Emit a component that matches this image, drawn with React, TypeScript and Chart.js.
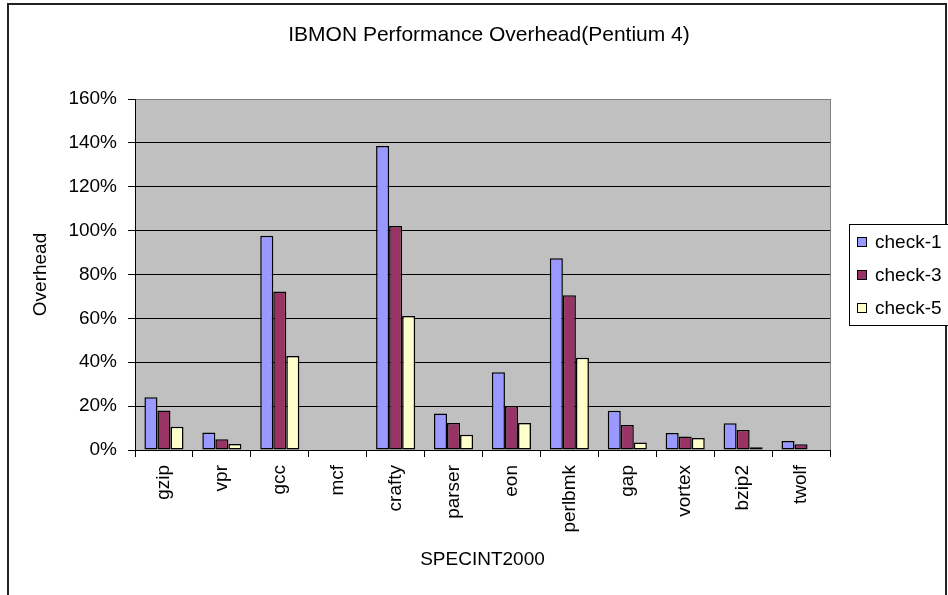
import React, { useEffect, useRef } from "react";
import { Chart, registerables } from "chart.js";

Chart.register(...registerables);

const categories = ["gzip", "vpr", "gcc", "mcf", "crafty", "parser", "eon", "perlbmk", "gap", "vortex", "bzip2", "twolf"];
const check1 = [24, 8, 97.7, null, 138.6, 16.6, 35.4, 87.4, 17.9, 7.7, 12.2, 4.1];
const check3 = [18, 4.9, 72.2, null, 102.1, 12.3, 20.1, 70.5, 11.4, 6.2, 9.1, 2.6];
const check5 = [10.6, 2.7, 42.8, null, 61.1, 7.0, 12.3, 42.1, 3.4, 5.5, 1.2, 0];
const seriesNames = ["check-1", "check-3", "check-5"];
const seriesColors = ["#9999FF", "#993366", "#FFFFCC"];
const yMin = 0;
const yMax = 160;
const yStep = 20;
const titleText = "IBMON Performance Overhead(Pentium 4)";
const xTitle = "SPECINT2000";
const yTitle = "Overhead";

const FONT = "'Liberation Sans', Arial, sans-serif";

const framePlugin = {
  id: "framePlugin",
  beforeDraw(chart: any) {
    const { ctx, chartArea } = chart;
    ctx.save();
    ctx.fillStyle = "#ffffff";
    ctx.fillRect(0, 0, chart.width, chart.height);
    ctx.fillStyle = "#C0C0C0";
    ctx.fillRect(chartArea.left, chartArea.top, chartArea.right - chartArea.left, chartArea.bottom - chartArea.top);
    // outer frame
    ctx.strokeStyle = "#222";
    ctx.lineWidth = 2;
    ctx.beginPath();
    ctx.moveTo(8, 600);
    ctx.lineTo(8, 4);
    ctx.lineTo(946, 4);
    ctx.lineTo(946, 600);
    ctx.stroke();
    // title
    ctx.fillStyle = "#000";
    ctx.font = `21px ${FONT}`;
    ctx.textAlign = "center";
    ctx.textBaseline = "middle";
    ctx.fillText(titleText, 489, 35);
    ctx.restore();
  },
  afterDraw(chart: any) {
    const { ctx, chartArea } = chart;
    ctx.save();
    // right gray border
    ctx.strokeStyle = "#808080";
    ctx.lineWidth = 1;
    ctx.beginPath();
    ctx.moveTo(Math.round(chartArea.right) + 0.5, chartArea.top);
    ctx.lineTo(Math.round(chartArea.right) + 0.5, chartArea.bottom);
    ctx.stroke();
    // legend
    const lx = 849, ly = 224, lh = 101;
    ctx.fillStyle = "#fff";
    ctx.fillRect(lx, ly, 120, lh);
    ctx.strokeStyle = "#000";
    ctx.strokeRect(lx + 0.5, ly + 0.5, 120, lh);
    ctx.font = `19px ${FONT}`;
    ctx.textAlign = "left";
    ctx.textBaseline = "middle";
    chart.data.datasets.forEach((ds: any, i: number) => {
      const cy = 242 + i * 33;
      ctx.fillStyle = ds.backgroundColor;
      ctx.fillRect(857, cy - 5, 10, 10);
      ctx.strokeStyle = "#000";
      ctx.strokeRect(857.5, cy - 4.5, 9, 9);
      ctx.fillStyle = "#000";
      ctx.fillText(ds.label, 875, cy + 1);
    });
    ctx.restore();
  },
};

export default function App() {
  const ref = useRef<HTMLCanvasElement | null>(null);
  useEffect(() => {
    document.body.style.margin = "0";
    const canvas = ref.current!;
    const series = [check1, check3, check5];
    const chart = new Chart(canvas, {
      type: "bar",
      data: {
        labels: categories,
        datasets: series.map((d, i) => ({
          label: seriesNames[i],
          data: d as any,
          backgroundColor: seriesColors[i],
          borderColor: "#000",
          borderWidth: 1.5,
          borderSkipped: false,
          categoryPercentage: 0.675,
          barPercentage: 1,
        })),
      },
      options: {
        responsive: false,
        animation: false,
        devicePixelRatio: 1,
        layout: { padding: { top: 99, right: 118, left: 0, bottom: 0 } },
        plugins: {
          legend: { display: false },
          title: { display: false },
          tooltip: { enabled: false },
        },
        scales: {
          x: {
            afterFit(scale: any) {
              scale.height = 145;
            },
            grid: {
              offset: true,
              drawOnChartArea: false,
              drawTicks: true,
              tickLength: 7,
              tickColor: "#000",
              color: "#000",
            },
            border: { color: "#000", width: 1 },
            ticks: {
              autoSkip: false,
              minRotation: 90,
              maxRotation: 90,
              padding: 8,
              color: "#000",
              font: { family: FONT, size: 19 },
            },
            title: {
              display: true,
              text: xTitle,
              color: "#000",
              font: { family: FONT, size: 19 },
              padding: { top: 0, bottom: 24 },
            },
          },
          y: {
            min: yMin,
            max: yMax,
            afterFit(scale: any) {
              scale.width = 135;
            },
            grid: {
              color: (c: any) => (c.tick && c.tick.value === yMax ? "#808080" : "#000"),
              tickColor: "#000",
              tickLength: 7,
              lineWidth: 1,
            },
            border: { color: "#000", width: 1 },
            ticks: {
              stepSize: yStep,
              padding: 11,
              color: "#000",
              font: { family: FONT, size: 19 },
              callback: (v: any) => `${v}%`,
            },
            title: {
              display: true,
              text: yTitle,
              color: "#000",
              font: { family: FONT, size: 19 },
              padding: { top: 29, bottom: 0 },
            },
          },
        },
      },
      plugins: [framePlugin],
    });
    return () => chart.destroy();
  }, []);
  return <canvas ref={ref} width={948} height={595} style={{ display: "block", width: 948, height: 595 }} />;
}
